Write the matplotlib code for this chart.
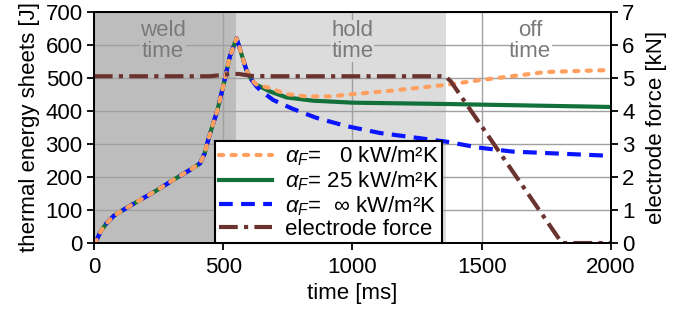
import numpy as np
import matplotlib.pyplot as plt

plt.rcParams['font.family'] = ['Liberation Sans', 'DejaVu Sans']
plt.rcParams['mathtext.fontset'] = 'custom'
plt.rcParams['mathtext.it'] = 'Liberation Sans:italic'
plt.rcParams['mathtext.rm'] = 'Liberation Sans'

# shared heating phase (all three curves overlap)
t_rise = [0, 10, 25, 49, 78, 113, 178, 242, 307, 371, 410, 429, 442, 462, 477, 500, 526, 552]
e_rise = [0, 8, 33, 60, 83, 100, 130, 159, 191, 221, 241, 272, 312, 363, 400, 474, 565, 620]

# cooling phase per alpha_F
t_0 = [552, 590, 610, 629, 681, 745, 823, 913, 1003, 1147, 1363, 1500, 1750, 2000]
e_0 = [620, 524, 494, 480, 469, 451, 444, 444, 451, 461, 479, 494, 518, 524]
t_25 = [552, 590, 610, 629, 681, 745, 848, 1003, 1363, 2000]
e_25 = [620, 524, 494, 479, 459, 441, 431, 425, 421, 412]
t_inf = [552, 590, 610, 629, 649, 694, 770, 861, 977, 1108, 1363, 1488, 1618, 2000]
e_inf = [620, 524, 494, 474, 459, 433, 406, 379, 354, 333, 307, 289, 277, 264]

# electrode force [kN]
t_f = [0, 450, 530, 560, 610, 700, 1340, 1363, 1380, 1810, 2000]
f_f = [5.05, 5.05, 5.12, 5.12, 5.06, 5.05, 5.05, 5.02, 4.9, 0, 0]

fig, ax = plt.subplots(figsize=(6.85, 3.12), dpi=100)
fig.subplots_adjust(left=0.137, right=0.892, top=0.962, bottom=0.221)

weld_col = '#bdbdbd'
hold_col = '#dcdcdc'
ax.axvspan(0, 550, color=weld_col, zorder=0, lw=0)
ax.axvspan(550, 1360, color=hold_col, zorder=0, lw=0)
ax.grid(True, color='#a0a0a0', lw=1, zorder=1)
ax.set_axisbelow(True)

def curve(t, e):
    return np.concatenate([t_rise, t[1:]]), np.concatenate([e_rise, e[1:]])

x0, y0 = curve(t_0, e_0)
x1, y1 = curve(t_25, e_25)
x2, y2 = curve(t_inf, e_inf)

ax2 = ax.twinx()
l1, = ax.plot(x1, y1, color='#12703a', lw=3, label=r'$\alpha_F$= 25 kW/m²K', zorder=3)
l2, = ax.plot(x2, y2, color='#0a14ff', lw=3, ls=(0, (3.3, 2)),
              label=r'$\alpha_F$=  $\infty$ kW/m²K', zorder=3)
l0, = ax.plot(x0, y0, color='#ffa060', lw=3, ls=(0, (1, 2)), dash_capstyle='round',
              label=r'$\alpha_F$=   0 kW/m²K', zorder=4)
l3, = ax2.plot(t_f, f_f, color='#6b3330', lw=3, ls=(0, (4.5, 1.5, 1, 1.5)),
               label='electrode force')

ax.set_xlim(0, 2000)
ax.set_ylim(0, 700)
ax2.set_ylim(0, 7)
ax.set_xticks([0, 500, 1000, 1500, 2000])
ax.set_yticks(range(0, 701, 100))
ax2.set_yticks(range(0, 8))
for a in (ax, ax2):
    a.tick_params(labelsize=16, length=5, width=1.3, pad=3)
    for s in a.spines.values():
        s.set_linewidth(1.3)
ax.tick_params(axis='x', pad=5)
ax.set_xlabel('time [ms]', fontsize=16, labelpad=4)
ax.set_ylabel('thermal energy sheets [J]', fontsize=16, labelpad=4)
ax2.set_ylabel('electrode force [kN]', fontsize=16, labelpad=8)

for xt, txt, bg in [(267, 'weld\ntime', weld_col), (1002, 'hold\ntime', hold_col),
                    (1687, 'off\ntime', 'white')]:
    ax.text(xt, 612, txt, ha='center', va='center', fontsize=16, color='#7a7a7a',
            linespacing=0.95, zorder=2,
            bbox=dict(facecolor=bg, edgecolor='none', pad=0.3))

leg = ax2.legend(handles=[l0, l1, l2, l3], loc='lower left', bbox_to_anchor=(0.235, 0.0),
                 fontsize=16, frameon=True, fancybox=False, edgecolor='black',
                 handlelength=2.4, handletextpad=0.6, borderpad=0.15, labelspacing=0.05,
                 borderaxespad=0)
leg.get_frame().set_linewidth(1.5)
leg.get_frame().set_alpha(1)

fig.savefig('out.png')
